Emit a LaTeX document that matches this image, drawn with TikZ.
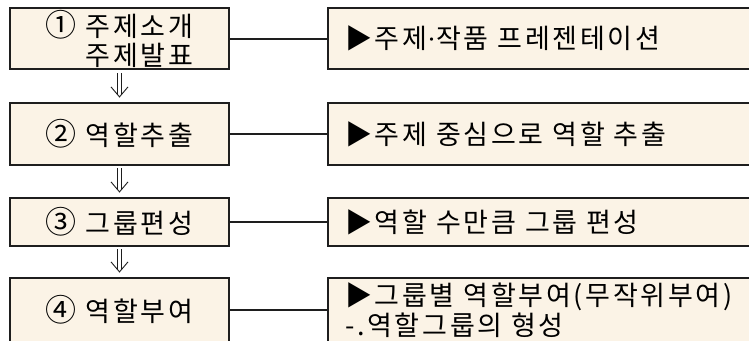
\documentclass[tikz,border=0pt]{standalone}
\usepackage{fontspec}
\setmainfont[LetterSpace=10]{Noto Sans CJK KR}
\newfontfamily\dotfont{Liberation Serif}
\newcommand\circnum[1]{{\fontsize{31}{28}\selectfont #1}}
\usetikzlibrary{calc}
\definecolor{boxfill}{HTML}{FBF3E6}
\definecolor{boxline}{HTML}{1E1E1E}
\tikzset{
  lbox/.style={draw=boxline, line width=2.2pt, fill=boxfill, minimum width=219pt, inner sep=0pt, align=right, font=\fontsize{27}{29}\selectfont},
  rbox/.style={draw=boxline, line width=2.2pt, fill=boxfill, text width=400pt, inner xsep=17pt, inner ysep=0pt, align=left, font=\fontsize{27}{30}\selectfont},
  link/.style={draw=boxline, line width=2pt},
  flow/.style={draw=boxline, line width=0.9pt, double=white, double distance=3.4pt},
  flowhead/.style={draw=boxline, line width=0.9pt, line join=miter}
}
\begin{document}
\begin{tikzpicture}[x=1pt,y=-1pt]
\useasboundingbox (0,0) rectangle (749,340);
\clip (0,0) rectangle (749,340);
\fill[white] (0,0) rectangle (749,340);
\node[lbox, minimum height=61pt] (b1) at (119.5,38.5) {\circnum{①} 주제소개\\주제발표};
\node[lbox, minimum height=62pt] (b2) at (119.5,134) {\circnum{②} 역할추출};
\node[lbox, minimum height=48pt] (b3) at (119.5,222) {\circnum{③} 그룹편성};
\node[lbox, minimum height=64pt] (b4) at (119.5,310) {\circnum{④} 역할부여};
\node[rbox, minimum height=61pt, anchor=west] (r1) at (327,38.5) {▶주제{\dotfont\fontsize{27}{30}\selectfont ·}작품 프레젠테이션};
\node[rbox, minimum height=62pt, anchor=west] (r2) at (327,134) {▶주제 중심으로 역할 추출};
\node[rbox, minimum height=48pt, anchor=west] (r3) at (327,222) {▶역할 수만큼 그룹 편성};
\node[rbox, minimum height=64pt, anchor=west] (r4) at (327,310) {▶그룹별 역할부여(무작위부여)\\ -.역할그룹의 형성};
\draw[link] (b1.east) -- (r1.west);
\draw[link] (b2.east) -- (r2.west);
\draw[link] (b3.east) -- (r3.west);
\draw[link] (b4.east) -- (r4.west);
\draw[flow, shorten <=3pt, shorten >=7.5pt] (b1.south) -- (b2.north);
\draw[flowhead] ($(b2.north)+(-8.5,-15)$) -- ($(b2.north)+(0,-5)$) -- ($(b2.north)+(8.5,-15)$);
\draw[flow, shorten <=2pt, shorten >=7.5pt] (b2.south) -- (b3.north);
\draw[flowhead] ($(b3.north)+(-8.5,-15)$) -- ($(b3.north)+(0,-5)$) -- ($(b3.north)+(8.5,-15)$);
\draw[flow, shorten <=2pt, shorten >=7.5pt] (b3.south) -- (b4.north);
\draw[flowhead] ($(b4.north)+(-8.5,-15)$) -- ($(b4.north)+(0,-5)$) -- ($(b4.north)+(8.5,-15)$);
\end{tikzpicture}
\end{document}
